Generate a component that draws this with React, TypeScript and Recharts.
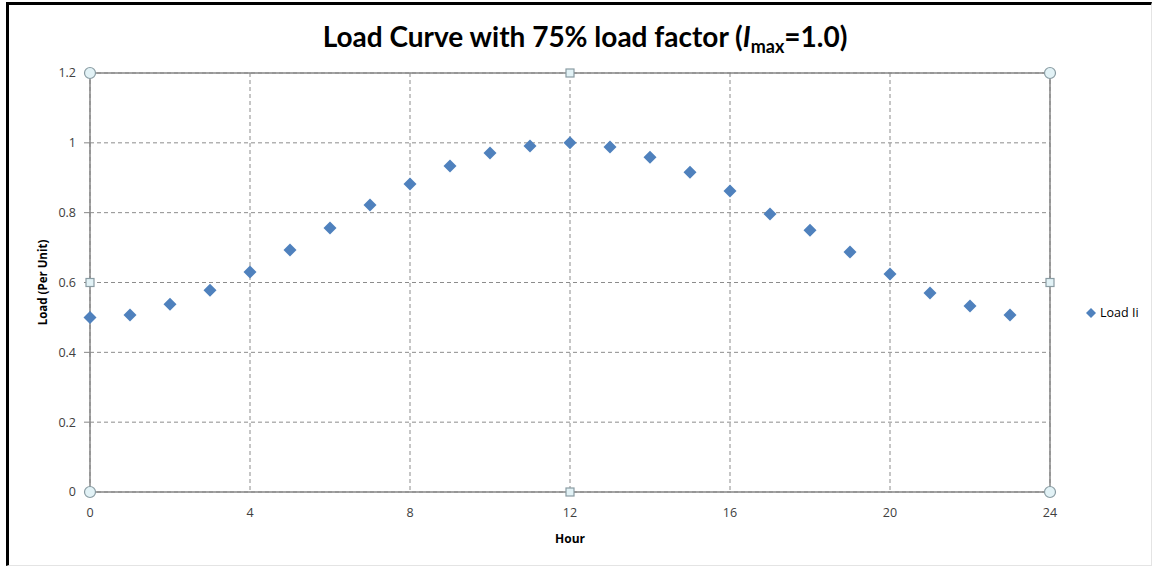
import React from 'react';
import {
  ScatterChart,
  Scatter,
  XAxis,
  YAxis,
  CartesianGrid,
  ReferenceLine,
  ReferenceDot,
} from 'recharts';

// hour of day and load in per unit
const hours = [0, 1, 2, 3, 4, 5, 6, 7, 8, 9, 10, 11, 12, 13, 14, 15, 16, 17, 18, 19, 20, 21, 22, 23];
const loads = [
  0.5, 0.507, 0.538, 0.578, 0.63, 0.693, 0.756, 0.822, 0.882, 0.934, 0.971, 0.991,
  1.0, 0.988, 0.959, 0.916, 0.862, 0.796, 0.75, 0.687, 0.624, 0.57, 0.533, 0.507,
];
const xTicks = [0, 4, 8, 12, 16, 20, 24];
const yTicks = [0, 0.2, 0.4, 0.6, 0.8, 1, 1.2];
const seriesName = 'Load Ii';

// selection handles Excel draws around the plot area
const cornerHandles = [
  { x: 0, y: 0 },
  { x: 0, y: 1.2 },
  { x: 24, y: 0 },
  { x: 24, y: 1.2 },
];
const sideHandles = [
  { x: 12, y: 0 },
  { x: 12, y: 1.2 },
  { x: 0, y: 0.6 },
  { x: 24, y: 0.6 },
];

const data = hours.map((h, i) => ({ hour: h, load: loads[i] }));

const BLUE = '#4F81BD';
const GRID = '#8c8c8c';
const AXIS = '#868686';
const TICK_FONT = '"Open Sans", "DejaVu Sans", sans-serif';

const Diamond = (props: any) => {
  const { cx, cy } = props;
  const r = 6.5;
  return (
    <polygon
      points={`${cx},${cy - r} ${cx + r},${cy} ${cx},${cy + r} ${cx - r},${cy}`}
      fill={BLUE}
    />
  );
};

const CircleHandle = (props: any) => (
  <circle cx={props.cx} cy={props.cy} r={5.5} fill="#e2f2f6" stroke="#8a9ca3" strokeWidth={1.2} />
);

const SquareHandle = (props: any) => (
  <rect x={props.cx - 4} y={props.cy - 4} width={8} height={8} fill="#e2f2f6" stroke="#8a9ca3" strokeWidth={1.2} />
);

const YLabel = (props: any) => {
  const { viewBox } = props;
  const x = viewBox.x + 12;
  const y = viewBox.y + viewBox.height / 2;
  return (
    <text
      x={x}
      y={y}
      transform={`rotate(-90, ${x}, ${y})`}
      textAnchor="middle"
      dominantBaseline="central"
      fontFamily={TICK_FONT}
      fontSize={11.5}
      fontWeight="bold"
      fill="#000"
    >
      Load (Per Unit)
    </text>
  );
};

export default function App() {
  return (
    <div style={{ position: 'absolute', left: 0, top: 0, width: 1156, height: 569, background: '#fff' }}>
      <div
        style={{
          position: 'absolute',
          left: 6,
          top: 2,
          width: 1146,
          height: 564,
          borderLeft: '3px solid #000',
          borderTop: '3px solid #000',
          borderRight: '1px solid #e4e4e4',
          borderBottom: '1px solid #e4e4e4',
          boxSizing: 'border-box',
        }}
      />
      <div
        style={{
          position: 'absolute',
          left: 0,
          width: 1170,
          top: 17,
          textAlign: 'center',
          fontFamily: 'Lato, "Open Sans", sans-serif',
          fontWeight: 'bold',
          fontSize: 28,
          lineHeight: '38px',
          color: '#000',
        }}
      >
        Load Curve with 75% load factor (<i>I</i>
        <sub style={{ fontSize: 18, verticalAlign: -6 }}>max</sub>=1.0)
      </div>
      <div style={{ position: 'absolute', left: 0, top: 0 }}>
        <ScatterChart width={1156} height={569} margin={{ top: 73, right: 106, bottom: 47, left: 30 }}>
          <CartesianGrid stroke={GRID} strokeDasharray="4 3" />
          <XAxis
            type="number"
            dataKey="hour"
            domain={[0, 24]}
            ticks={xTicks}
            height={30}
            axisLine={{ stroke: AXIS, strokeWidth: 1.5 }}
            tickLine={false}
            tickSize={6}
            tickMargin={10}
            tick={{ fill: '#404040', fontSize: 12.5, fontFamily: TICK_FONT }}
            label={{
              value: 'Hour',
              position: 'bottom',
              offset: 12,
              fill: '#000',
              fontSize: 12,
              fontWeight: 'bold',
              fontFamily: TICK_FONT,
            }}
          />
          <YAxis
            type="number"
            dataKey="load"
            domain={[0, 1.2]}
            ticks={yTicks}
            width={60}
            axisLine={{ stroke: AXIS, strokeWidth: 1.5 }}
            tickLine={{ stroke: AXIS }}
            tickSize={6}
            tickMargin={8}
            tick={{ fill: '#404040', fontSize: 12.5, fontFamily: TICK_FONT }}
            label={<YLabel />}
          />
          <ReferenceLine y={1.2} stroke={AXIS} strokeWidth={1.5} />
          <ReferenceLine x={24} stroke={AXIS} strokeWidth={1.5} />
          <Scatter name={seriesName} data={data} shape={<Diamond />} isAnimationActive={false} />
          {cornerHandles.map((p, i) => (
            <ReferenceDot key={'c' + i} x={p.x} y={p.y} ifOverflow="visible" shape={<CircleHandle />} />
          ))}
          {sideHandles.map((p, i) => (
            <ReferenceDot key={'s' + i} x={p.x} y={p.y} ifOverflow="visible" shape={<SquareHandle />} />
          ))}
        </ScatterChart>
      </div>
      <div
        style={{
          position: 'absolute',
          left: 1085,
          top: 304,
          display: 'flex',
          alignItems: 'center',
          fontFamily: TICK_FONT,
          fontSize: 12.5,
          color: '#000',
        }}
      >
        <svg width={12} height={12} style={{ marginRight: 3 }}>
          <polygon points="6,1 11,6 6,11 1,6" fill={BLUE} />
        </svg>
        {seriesName}
      </div>
    </div>
  );
}
